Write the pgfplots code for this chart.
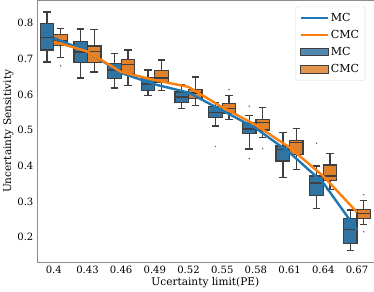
\documentclass[border=0pt]{standalone}
\usepackage{pgfplots}
\pgfplotsset{compat=1.18}
\usepgfplotslibrary{statistics}
\usepackage{fontspec}
\setmainfont{DejaVu Serif}
\definecolor{mcbox}{HTML}{3274A1}
\definecolor{cmcbox}{HTML}{E1812C}
\definecolor{mcline}{HTML}{1F77B4}
\definecolor{cmcline}{HTML}{FF7F0E}
\definecolor{edge}{HTML}{3F3F3F}
\pgfplotsset{
  longline/.style={legend image code/.code={\draw[sharp corners,##1] (0cm,0cm) -- (0.95cm,0cm);}},
  longbox/.style={legend image code/.code={\draw[sharp corners,##1] (0cm,-0.12cm) rectangle (0.95cm,0.13cm);}},
  bx/.style={fill=#1, draw=edge, line width=1.3pt, forget plot, mark=*, mark size=0.6pt,
    mark options={fill=edge!80, draw=edge!80, line width=0.2pt},
    boxplot/draw direction=y,
    boxplot/box extend=0.4, boxplot/whisker extend=0.22},
}
\begin{document}
\begin{tikzpicture}
\begin{axis}[
  scale only axis, width=334bp, height=260bp,
  xmin=-0.5, xmax=9.5, ymin=0.129, ymax=0.864,
  xtick={0,...,9},
  xticklabels={0.4,0.43,0.46,0.49,0.52,0.55,0.58,0.61,0.64,0.67},
  ytick={0.2,0.3,0.4,0.5,0.6,0.7,0.8},
  yticklabel style={/pgf/number format/fixed, /pgf/number format/precision=1, /pgf/number format/fixed zerofill},
  /pgf/number format/assume math mode=true,
  tick label style={font=\fontsize{10}{12}\selectfont},
  label style={font=\fontsize{10.5}{12}\selectfont},
  xlabel={Ucertainty limit(PE)}, ylabel={Uncertainty Sensitivity},
  xlabel style={yshift=3pt}, ylabel style={yshift=-3pt},
  axis line style={black!45},
  major tick length=0pt,
  xtick pos=bottom, ytick pos=left,
  legend style={at={(0.975,0.975)}, anchor=north east, draw=black!15, rounded corners=2pt,
    font=\fontsize{11}{13}\selectfont, row sep=3.5pt, inner sep=4pt, fill=white, fill opacity=0.85, text opacity=1,
    /tikz/every even column/.append style={column sep=4pt}},
  legend cell align=left,
]
% MC boxes
\addplot[bx=mcbox, boxplot prepared={draw position=-0.2, lower whisker=0.691, lower quartile=0.724, median=0.760, upper quartile=0.798, upper whisker=0.831}] coordinates {};
\addplot[bx=mcbox, boxplot prepared={draw position=0.8, lower whisker=0.646, lower quartile=0.689, median=0.719, upper quartile=0.748, upper whisker=0.783}] coordinates {};
\addplot[bx=mcbox, boxplot prepared={draw position=1.8, lower whisker=0.618, lower quartile=0.644, median=0.668, upper quartile=0.687, upper whisker=0.715}] coordinates {};
\addplot[bx=mcbox, boxplot prepared={draw position=2.8, lower whisker=0.597, lower quartile=0.611, median=0.629, upper quartile=0.647, upper whisker=0.668}] coordinates {};
\addplot[bx=mcbox, boxplot prepared={draw position=3.8, lower whisker=0.561, lower quartile=0.578, median=0.593, upper quartile=0.607, upper whisker=0.628}] coordinates {};
\addplot[bx=mcbox, boxplot prepared={draw position=4.8, lower whisker=0.511, lower quartile=0.536, median=0.550, upper quartile=0.567, upper whisker=0.578}] coordinates {(0,0.454)};
\addplot[bx=mcbox, boxplot prepared={draw position=5.8, lower whisker=0.447, lower quartile=0.491, median=0.503, upper quartile=0.520, upper whisker=0.540}] coordinates {(0,0.567) (0,0.420)};
\addplot[bx=mcbox, boxplot prepared={draw position=6.8, lower whisker=0.367, lower quartile=0.413, median=0.446, upper quartile=0.455, upper whisker=0.493}] coordinates {};
\addplot[bx=mcbox, boxplot prepared={draw position=7.8, lower whisker=0.281, lower quartile=0.316, median=0.352, upper quartile=0.371, upper whisker=0.399}] coordinates {(0,0.463)};
\addplot[bx=mcbox, boxplot prepared={draw position=8.8, lower whisker=0.162, lower quartile=0.183, median=0.222, upper quartile=0.253, upper whisker=0.276}] coordinates {};
% CMC boxes
\addplot[bx=cmcbox, boxplot prepared={draw position=0.2, lower whisker=0.703, lower quartile=0.737, median=0.750, upper quartile=0.767, upper whisker=0.784}] coordinates {(0,0.680)};
\addplot[bx=cmcbox, boxplot prepared={draw position=1.2, lower whisker=0.663, lower quartile=0.690, median=0.720, upper quartile=0.736, upper whisker=0.781}] coordinates {};
\addplot[bx=cmcbox, boxplot prepared={draw position=2.2, lower whisker=0.625, lower quartile=0.657, median=0.683, upper quartile=0.697, upper whisker=0.724}] coordinates {};
\addplot[bx=cmcbox, boxplot prepared={draw position=3.2, lower whisker=0.611, lower quartile=0.635, median=0.646, upper quartile=0.666, upper whisker=0.696}] coordinates {};
\addplot[bx=cmcbox, boxplot prepared={draw position=4.2, lower whisker=0.568, lower quartile=0.589, median=0.604, upper quartile=0.614, upper whisker=0.649}] coordinates {};
\addplot[bx=cmcbox, boxplot prepared={draw position=5.2, lower whisker=0.530, lower quartile=0.548, median=0.561, upper quartile=0.574, upper whisker=0.597}] coordinates {(0,0.613)};
\addplot[bx=cmcbox, boxplot prepared={draw position=6.2, lower whisker=0.479, lower quartile=0.500, median=0.521, upper quartile=0.530, upper whisker=0.564}] coordinates {(0,0.448)};
\addplot[bx=cmcbox, boxplot prepared={draw position=7.2, lower whisker=0.389, lower quartile=0.432, median=0.465, upper quartile=0.471, upper whisker=0.505}] coordinates {};
\addplot[bx=cmcbox, boxplot prepared={draw position=8.2, lower whisker=0.333, lower quartile=0.359, median=0.371, upper quartile=0.402, upper whisker=0.435}] coordinates {};
\addplot[bx=cmcbox, boxplot prepared={draw position=9.2, lower whisker=0.235, lower quartile=0.253, median=0.266, upper quartile=0.278, upper whisker=0.303}] coordinates {(0,0.319) (0,0.215)};
% lines
\addplot[mcline, line width=2.4pt, no marks, forget plot] coordinates {(0,0.758) (1,0.720) (2,0.660) (3,0.628) (4,0.605) (5,0.555) (6,0.505) (7,0.437) (8,0.352) (9,0.220)};
\addplot[cmcline, line width=2.4pt, no marks, forget plot] coordinates {(0,0.748) (1,0.720) (2,0.663) (3,0.640) (4,0.621) (5,0.564) (6,0.514) (7,0.451) (8,0.371) (9,0.270)};
\addlegendimage{mcline, line width=2pt, longline}
\addlegendentry{MC}
\addlegendimage{cmcline, line width=2pt, longline}
\addlegendentry{CMC}
\addlegendimage{fill=mcbox, draw=edge, line width=0.8pt, longbox}
\addlegendentry{MC}
\addlegendimage{fill=cmcbox, draw=edge, line width=0.8pt, longbox}
\addlegendentry{CMC}
\end{axis}
\end{tikzpicture}
\end{document}
